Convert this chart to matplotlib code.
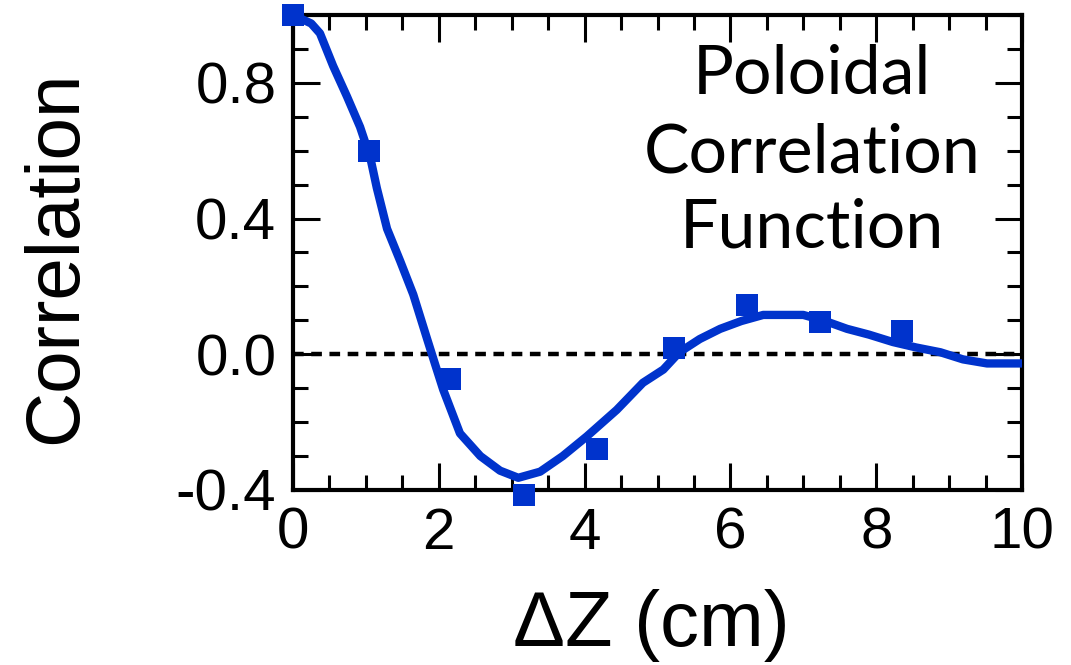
import matplotlib
matplotlib.use('Agg')
import matplotlib.pyplot as plt
from matplotlib.ticker import MultipleLocator

# Datos medidos (cuadrados)
dz_pts = [0.0, 1.04, 2.15, 3.17, 4.17, 5.23, 6.23, 7.23, 8.35]
corr_pts = [1.0, 0.60, -0.072, -0.415, -0.278, 0.018, 0.146, 0.095, 0.069]

# Curva ajustada
dz_fit = [0.0, 0.10, 0.25, 0.37, 0.55, 0.74, 0.92, 1.06, 1.15, 1.29, 1.47,
          1.65, 1.84, 1.95, 2.06, 2.29, 2.57, 2.84, 3.09, 3.39, 3.70, 4.03,
          4.44, 4.80, 5.08, 5.30, 5.58, 5.86, 6.15, 6.45, 7.0, 7.30, 7.60,
          7.90, 8.23, 8.55, 8.88, 9.19, 9.52, 10.0]
corr_fit = [1.0, 0.99, 0.975, 0.946, 0.85, 0.76, 0.67, 0.58, 0.49, 0.37,
            0.275, 0.176, 0.045, -0.03, -0.104, -0.233, -0.30, -0.343, -0.364,
            -0.346, -0.30, -0.242, -0.164, -0.084, -0.045, 0.006, 0.045, 0.075,
            0.098, 0.116, 0.116, 0.098, 0.075, 0.058, 0.036, 0.02, 0.006,
            -0.015, -0.027, -0.027]

label_lines = ['Poloidal', 'Correlation', 'Function']

azul = '#0033cc'

plt.rcParams['font.family'] = ['Liberation Sans', 'DejaVu Sans']

fig = plt.figure(figsize=(10.71, 6.65), dpi=100)
ax = fig.add_axes([293 / 1071, 1 - 490 / 665, (1022 - 293) / 1071, (490 - 15) / 665])

ax.axhline(0, color='black', lw=3.2, dashes=(2.4, 1.7), zorder=1)
ax.plot(dz_fit, corr_fit, color=azul, lw=6, solid_joinstyle='round',
        solid_capstyle='round', zorder=3)
ax.plot(dz_pts, corr_pts, 's', color=azul, markersize=16, mew=0,
        clip_on=False, zorder=5)

ax.set_xlim(0, 10)
ax.set_ylim(-0.4, 1.0)
ax.xaxis.set_major_locator(MultipleLocator(2))
ax.xaxis.set_minor_locator(MultipleLocator(0.5))
ax.yaxis.set_minor_locator(MultipleLocator(0.1))
ax.set_yticks([-0.4, 0.0, 0.4, 0.8])
ax.set_yticklabels(['-0.4', '0.0', '0.4', '0.8'])

ax.tick_params(which='both', direction='in', top=True, right=True,
               width=2.2, labelsize=42, pad=12)
ax.tick_params(which='major', length=19.5)
ax.tick_params(which='minor', length=11)
for s in ax.spines.values():
    s.set_linewidth(3)

ax.set_xlabel('ΔZ (cm)', fontsize=56)
ax.set_ylabel('Correlation', fontsize=55)
ax.xaxis.set_label_coords(0.491, -0.208)
ax.yaxis.set_label_coords(-0.275, 0.49)

# Texto de la anotacion
baselines = [93, 172, 248]
for txt, yb in zip(label_lines, baselines):
    fig.text(812 / 1071, 1 - yb / 665, txt, fontsize=49, family=['Lato', 'DejaVu Sans'],
             ha='center', va='baseline')

fig.savefig('out.png', dpi=100)
